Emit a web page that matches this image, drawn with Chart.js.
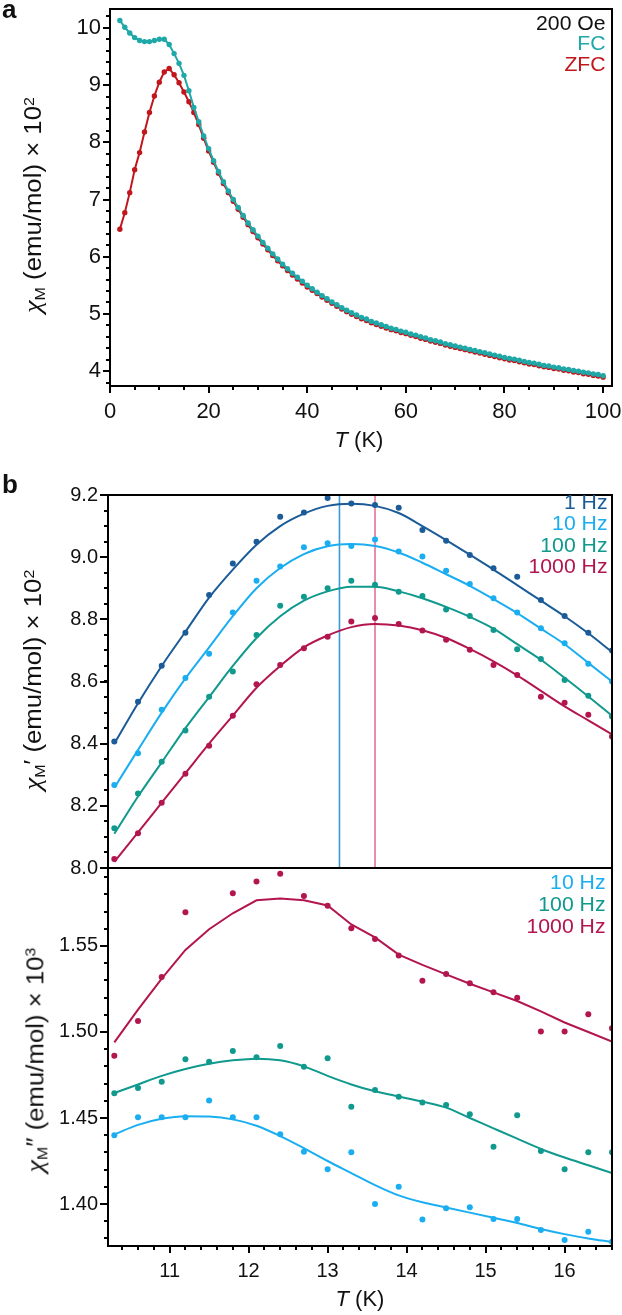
<!DOCTYPE html>
<html><head><meta charset="utf-8">
<script src="https://cdn.jsdelivr.net/npm/chart.js@4/dist/chart.umd.min.js"></script>
<style>
html,body{margin:0;padding:0;background:#fff;}
#wrap{position:relative;width:622px;height:1315px;overflow:hidden;font-family:"Liberation Sans",Arial,Helvetica,sans-serif;color:#111;}
canvas{position:absolute;left:0;}
.t{position:absolute;white-space:nowrap;line-height:1;}
.lg{position:absolute;white-space:nowrap;text-align:right;transform:scaleX(1.06);transform-origin:100% 50%;}
.yt{position:absolute;white-space:nowrap;transform:translate(-50%,-50%) rotate(-90deg) scaleX(1.12);font-size:23px;line-height:1;}
.chi{font-family:"Liberation Serif","DejaVu Serif",serif;font-style:italic;font-size:1.1em;}
.sb{font-size:0.62em;vertical-align:-0.28em;}
.sp{font-size:0.62em;vertical-align:0.55em;}
.pl{font-weight:bold;font-size:26px;position:absolute;line-height:26px;}
</style></head>
<body><div id="wrap">
<canvas id="ca" width="622" height="460" style="top:0px"></canvas>
<canvas id="cb1" width="622" height="425" style="top:460px"></canvas>
<canvas id="cb2" width="622" height="455" style="top:860px"></canvas>

<div class="pl" style="left:2px;top:-4px">a</div>
<div class="pl" style="left:2px;top:471px">b</div>

<div class="lg" style="right:16px;top:12.5px;font-size:20px;line-height:20.5px">
<div style="color:#111">200 Oe</div><div style="color:#1fa8a8">FC</div><div style="color:#c0161c">ZFC</div></div>

<div class="lg" style="right:15px;top:492px;font-size:20px;line-height:21.3px">
<div style="color:#1a5b98">1 Hz</div><div style="color:#1aaef0">10 Hz</div><div style="color:#10998d">100 Hz</div><div style="color:#b3154f">1000 Hz</div></div>

<div class="lg" style="right:17px;top:870.5px;font-size:20px;line-height:22px">
<div style="color:#1aaef0">10 Hz</div><div style="color:#10998d">100 Hz</div><div style="color:#b3154f">1000 Hz</div></div>

<div class="yt" style="left:34px;top:205px"><span class="chi">χ</span><span class="sb">M</span> (emu/mol) × 10<span class="sp">2</span></div>
<div class="yt" style="left:34px;top:680px"><span class="chi">χ</span><span class="sb">M</span>′ (emu/mol) × 10<span class="sp">2</span></div>
<div class="yt" style="left:36px;top:1060px"><span class="chi">χ</span><span class="sb">M</span>″ (emu/mol) × 10<span class="sp">3</span></div>

<div class="t" style="left:359px;top:440px;transform:translate(-50%,-50%);font-size:22px"><i>T</i> (K)</div>
<div class="t" style="left:360px;top:1299px;transform:translate(-50%,-50%);font-size:22px"><i>T</i> (K)</div>
</div>
<script>
// ---------- Panel a : DC susceptibility ----------
const tempA = [2,3,4,5,6,7,8,9,10,11,12,13,14,15,16,17,18,19,20,21,22,23,24,25,26,27,28,29,30,31,32,33,34,35,36,37,38,39,40,41,42,43,44,45,46,47,48,49,50,51,52,53,54,55,56,57,58,59,60,61,62,63,64,65,66,67,68,69,70,71,72,73,74,75,76,77,78,79,80,81,82,83,84,85,86,87,88,89,90,91,92,93,94,95,96,97,98,99,100];
const fcA = [10.13,10.01,9.91,9.83,9.78,9.76,9.76,9.78,9.80,9.80,
9.71,9.55,9.38,9.17,8.90,8.61,8.36,8.11,7.89,
7.68,7.49,7.31,7.15,7.00,6.86,6.72,6.59,6.47,6.36,
6.25,6.15,6.05,5.96,5.87,5.79,5.71,5.64,5.57,5.50,
5.44,5.38,5.32,5.265,5.21,5.16,5.11,5.065,5.02,4.98,
4.94,4.91,4.87,4.84,4.81,4.78,4.75,4.73,4.70,4.68,
4.65,4.63,4.60,4.58,4.55,4.53,4.51,4.48,4.46,4.44,
4.42,4.40,4.38,4.36,4.34,4.32,4.30,4.28,4.26,4.24,
4.22,4.21,4.19,4.17,4.15,4.14,4.12,4.10,4.09,4.07,
4.06,4.04,4.03,4.01,4.00,3.98,3.97,3.95,3.94,3.92];
const zfcA = [6.48,6.77,7.12,7.52,7.82,8.18,8.52,8.81,9.05,9.23,
9.29,9.18,9.04,8.88,8.71,8.52,8.31,8.07,7.85,
7.65,7.46,7.28,7.12,6.97,6.83,6.69,6.56,6.44,6.33,
6.22,6.12,6.02,5.93,5.84,5.76,5.68,5.61,5.54,5.47,
5.415,5.355,5.295,5.24,5.185,5.135,5.085,5.04,4.995,4.955,
4.915,4.885,4.845,4.815,4.785,4.755,4.725,4.705,4.675,4.655,
4.625,4.605,4.575,4.555,4.525,4.505,4.485,4.455,4.435,4.415,
4.395,4.375,4.355,4.335,4.315,4.295,4.275,4.255,4.235,4.215,
4.195,4.185,4.165,4.145,4.125,4.115,4.095,4.075,4.065,4.045,
4.035,4.015,4.005,3.985,3.975,3.955,3.945,3.925,3.915,3.895];
const xTicksA = [0,20,40,60,80,100];
const yTicksA = [4,5,6,7,8,9,10];

// ---------- Panel b : AC susceptibility ----------
const acT = [10.3,10.6,10.9,11.2,11.5,11.8,12.1,12.4,12.7,13.0,13.3,13.6,13.9,14.2,14.5,14.8,15.1,15.4,15.7,16.0,16.3,16.6];
// in-phase chi' (x10^2)
const inPhase1 = [8.407,8.535,8.651,8.757,8.878,8.98,9.05,9.13,9.144,9.19,9.173,9.168,9.159,9.087,9.053,9.007,8.964,8.937,8.862,8.811,8.757,8.70];
const inPhase10 = [8.267,8.369,8.509,8.611,8.689,8.822,8.924,8.97,9.032,9.045,9.036,9.057,9.018,9.002,8.956,8.914,8.868,8.822,8.771,8.723,8.657,8.60];
const inPhase100 = [8.128,8.24,8.342,8.442,8.551,8.632,8.75,8.844,8.873,8.90,8.924,8.911,8.889,8.875,8.832,8.811,8.766,8.704,8.672,8.605,8.554,8.487];
const inPhase1000 = [8.029,8.112,8.21,8.303,8.393,8.49,8.591,8.653,8.707,8.744,8.793,8.804,8.785,8.764,8.734,8.702,8.653,8.621,8.551,8.532,8.493,8.423];
const fitIn1 = [8.40,8.53,8.65,8.76,8.87,8.96,9.04,9.10,9.14,9.165,9.172,9.165,9.142,9.10,9.055,9.008,8.96,8.91,8.86,8.81,8.755,8.695];
const fitIn10 = [8.258,8.38,8.50,8.61,8.71,8.81,8.90,8.965,9.01,9.035,9.042,9.036,9.015,8.982,8.945,8.908,8.865,8.82,8.77,8.72,8.66,8.60];
const fitIn100 = [8.11,8.23,8.34,8.45,8.55,8.65,8.74,8.81,8.86,8.89,8.905,8.905,8.89,8.868,8.84,8.808,8.77,8.72,8.67,8.612,8.552,8.49];
const fitIn1000 = [8.02,8.115,8.21,8.305,8.40,8.49,8.58,8.65,8.71,8.748,8.775,8.785,8.78,8.765,8.74,8.705,8.665,8.62,8.57,8.52,8.475,8.43];
const peakT = [13.15, 13.6];
const yTicksB1 = [8.0,8.2,8.4,8.6,8.8,9.0,9.2];
const yLabelsB1 = ['8.0','8.2','8.4','8.6','8.8','9.0','9.2'];
// out-of-phase chi'' (x10^3)
const outPhase10 = [1.440,1.4504,1.4504,1.4504,1.4601,1.4504,1.4504,1.4405,1.4304,1.4202,1.4301,1.400,1.4101,1.391,1.3975,1.3981,1.3913,1.3913,1.3849,1.3791,1.3839,1.378];
const outPhase100 = [1.4644,1.4675,1.4711,1.4841,1.4827,1.489,1.4853,1.4919,1.4798,1.4847,1.4566,1.4663,1.4624,1.459,1.4576,1.4522,1.4333,1.4516,1.4308,1.4202,1.4301,1.4301];
const outPhase1000 = [1.4862,1.5064,1.532,1.5696,null,1.5806,1.5874,1.5919,1.579,1.5733,1.5603,1.5541,1.5444,1.5297,1.5337,1.5283,1.5231,1.5199,1.5002,1.5002,1.5103,1.5022];
const fitOut10 = [1.4405,1.446,1.4495,1.451,1.4508,1.4492,1.4455,1.4395,1.4325,1.425,1.418,1.411,1.405,1.401,1.398,1.395,1.392,1.389,1.3855,1.3825,1.380,1.378];
const fitOut100 = [1.4645,1.4695,1.4745,1.4785,1.4815,1.4835,1.4845,1.4835,1.480,1.4745,1.4695,1.4655,1.4625,1.4595,1.456,1.450,1.444,1.438,1.432,1.427,1.4225,1.418];
const fitOut1000 = [1.494,1.513,1.531,1.5477,1.5597,1.569,1.5765,1.5775,1.5765,1.5735,1.5625,1.555,1.545,1.539,1.5335,1.528,1.523,1.518,1.512,1.5055,1.50,1.4944];
const yTicksB2 = [1.40,1.45,1.50,1.55];
const yLabelsB2 = ['1.40','1.45','1.50','1.55'];
const xTicksB = [11,12,13,14,15,16];

// ---------- colours ----------
const C = {fc:'#1fa8a8', zfc:'#c0161c', f1:'#1a5b98', f10:'#1aaef0', f100:'#10998d', f1000:'#b3154f', vBlue:'#3d98d4', vRed:'#e07393'};

const FONT = '"Liberation Sans", Arial, Helvetica, sans-serif';
const zip = (xs, ys) => xs.map((x, i) => ({x, y: ys[i]}));

// minor ticks + frame plugin (uses chart scales)
const framePlugin = {
  id: 'frame',
  afterDraw(chart, args, o) {
    const {ctx, chartArea: a, scales} = chart;
    ctx.save();
    ctx.strokeStyle = '#000';
    ctx.lineWidth = 2;
    const eps = 1e-9;
    if (o.xMinor) {
      const s = scales.x; const st = o.xMinor;
      for (let v = Math.ceil(s.min / st) * st; v <= s.max + eps; v += st) {
        const p = Math.round(s.getPixelForValue(v)) ;
        ctx.beginPath(); ctx.moveTo(p, a.bottom); ctx.lineTo(p, a.bottom + o.minorLen); ctx.stroke();
      }
    }
    if (o.yMinor) {
      const s = scales.y; const st = o.yMinor;
      for (let v = Math.ceil((s.min - eps) / st) * st; v <= s.max + eps; v += st) {
        const p = Math.round(s.getPixelForValue(v));
        ctx.beginPath(); ctx.moveTo(a.left - o.minorLen, p); ctx.lineTo(a.left, p); ctx.stroke();
      }
    }
    ctx.beginPath();
    if (o.top) { ctx.moveTo(a.left, a.top); ctx.lineTo(a.right + 1, a.top); }
    if (o.right) { ctx.moveTo(a.right, a.top - 1); ctx.lineTo(a.right, a.bottom + 1); }
    ctx.stroke();
    ctx.restore();
  }
};

function yAxis(min, max, ticks, labels, width, tickLen, fontSize) {
  return {
    type: 'linear', min, max,
    afterBuildTicks: s => { s.ticks = ticks.map(v => ({value: v})); },
    afterFit: s => { s.width = width; s.paddingTop = 0; s.paddingBottom = 0; },
    ticks: {color: '#111', font: {family: FONT, size: fontSize}, padding: 2,
      callback: (v) => { const i = ticks.findIndex(t => Math.abs(t - v) < 1e-9); return i >= 0 ? labels[i] : ''; }},
    grid: {display: true, drawOnChartArea: false, drawTicks: true, tickLength: tickLen, color: '#000', lineWidth: 2},
    border: {display: true, color: '#000', width: 2}
  };
}
function xAxis(min, max, ticks, labels, height, tickLen, fontSize, pad) {
  return {
    type: 'linear', min, max,
    afterBuildTicks: s => { s.ticks = ticks.map(v => ({value: v})); },
    afterFit: s => { s.height = height; s.paddingLeft = 0; s.paddingRight = 0; },
    ticks: {color: '#111', font: {family: FONT, size: fontSize}, padding: pad, maxRotation: 0, autoSkip: false,
      callback: (v) => { const i = ticks.findIndex(t => Math.abs(t - v) < 1e-9); return i >= 0 ? labels[i] : ''; }},
    grid: {display: true, drawOnChartArea: false, drawTicks: true, tickLength: tickLen, color: '#000', lineWidth: 2},
    border: {display: true, color: '#000', width: 2}
  };
}
const baseOpts = {
  responsive: false, animation: false, devicePixelRatio: 1,
  events: [],
};
const noLegend = {legend: {display: false}, tooltip: {enabled: false}, title: {display: false}};

// ---- Chart a ----
new Chart(document.getElementById('ca'), {
  type: 'line',
  data: {datasets: [
    {label: 'FC', data: zip(tempA, fcA), borderColor: C.fc, backgroundColor: C.fc, borderWidth: 2, pointRadius: 2.7, pointBorderWidth: 0, pointBackgroundColor: C.fc, tension: 0},
    {label: 'ZFC', data: zip(tempA, zfcA), borderColor: C.zfc, backgroundColor: C.zfc, borderWidth: 2, pointRadius: 2.7, pointBorderWidth: 0, pointBackgroundColor: C.zfc, tension: 0}
  ]},
  options: Object.assign({}, baseOpts, {
    layout: {padding: {left: 0, right: 10, top: 9, bottom: 0}},
    scales: {
      x: xAxis(0, 101.8, xTicksA, xTicksA.map(String), 74, 7, 22, 6),
      y: yAxis(3.74, 10.33, yTicksA, yTicksA.map(String), 110, 7, 22)
    },
    plugins: Object.assign({}, noLegend, {frame: {xMinor: 5, yMinor: 0.2, minorLen: 4, top: true, right: true}})
  }),
  plugins: [framePlugin]
});

// ---- Chart b (top, chi') ----
const b1min = 8.0, b1max = 9.2;
function pts(ys, col, lab) { return {label: lab, data: zip(acT, ys), showLine: false, pointRadius: 3, pointBorderWidth: 0, pointBackgroundColor: col, borderColor: col, backgroundColor: col}; }
function fit(ys, col, lab, smooth) { return {label: lab, data: zip(acT, ys), borderColor: col, borderWidth: 2, pointRadius: 0, cubicInterpolationMode: smooth ? 'monotone' : 'default', tension: smooth ? 0.4 : 0, fill: false}; }
function vline(x, col) { return {label: 'peak', data: [{x, y: b1min}, {x, y: b1max}], borderColor: col, borderWidth: 1.6, pointRadius: 0, tension: 0}; }
new Chart(document.getElementById('cb1'), {
  type: 'line',
  data: {datasets: [
    pts(inPhase1, C.f1, '1 Hz'), pts(inPhase10, C.f10, '10 Hz'), pts(inPhase100, C.f100, '100 Hz'), pts(inPhase1000, C.f1000, '1000 Hz'),
    fit(fitIn1, C.f1, 'fit 1', true), fit(fitIn10, C.f10, 'fit 10', true), fit(fitIn100, C.f100, 'fit 100', true), fit(fitIn1000, C.f1000, 'fit 1000', true),
    vline(peakT[0], C.vBlue), vline(peakT[1], C.vRed)
  ]},
  options: Object.assign({}, baseOpts, {
    layout: {padding: {left: 0, right: 10, top: 35, bottom: 17}},
    scales: {
      x: {type: 'linear', min: 10.22, max: 16.6, display: false},
      y: yAxis(b1min, b1max, yTicksB1, yLabelsB1, 108, 8, 20)
    },
    plugins: Object.assign({}, noLegend, {frame: {yMinor: 0.05, minorLen: 4, top: true, right: true}})
  }),
  plugins: [framePlugin]
});

// ---- Chart b (bottom, chi'') ----
new Chart(document.getElementById('cb2'), {
  type: 'line',
  data: {datasets: [
    pts(outPhase10, C.f10, '10 Hz'), pts(outPhase100, C.f100, '100 Hz'), pts(outPhase1000, C.f1000, '1000 Hz'),
    fit(fitOut10, C.f10, 'fit 10', true), fit(fitOut100, C.f100, 'fit 100', true), fit(fitOut1000, C.f1000, 'fit 1000', false)
  ]},
  options: Object.assign({}, baseOpts, {
    layout: {padding: {left: 0, right: 10, top: 8, bottom: 0}},
    scales: {
      x: xAxis(10.22, 16.6, xTicksB, xTicksB.map(String), 69, 7, 20, 6),
      y: yAxis(1.3756, 1.5953, yTicksB2, yLabelsB2, 108, 8, 20)
    },
    plugins: Object.assign({}, noLegend, {frame: {xMinor: 0.2, yMinor: 0.01, minorLen: 4, top: true, right: true}})
  }),
  plugins: [framePlugin]
});
</script>
</body></html>
